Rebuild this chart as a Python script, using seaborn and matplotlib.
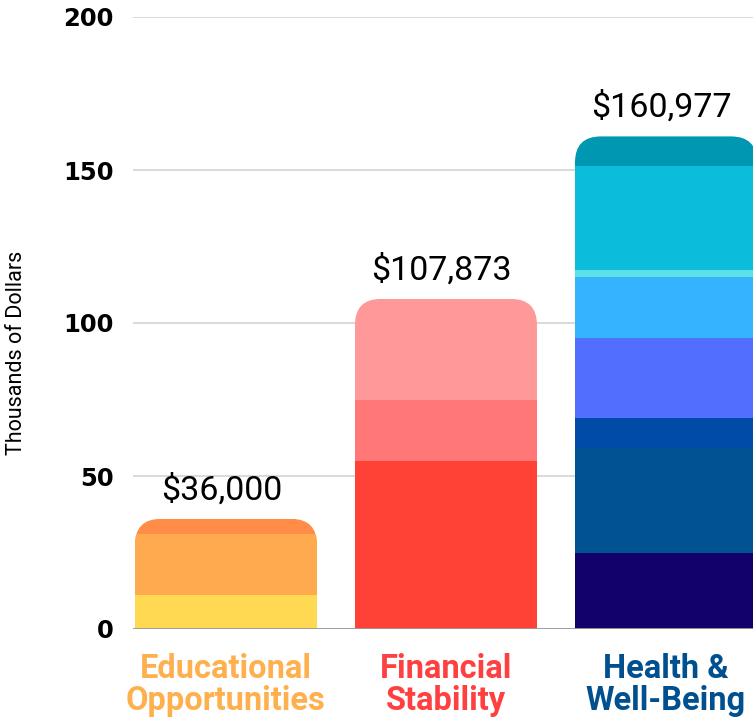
import matplotlib
matplotlib.use("Agg")
import matplotlib.pyplot as plt
from matplotlib.patches import FancyBboxPatch
import seaborn as sns
import pandas as pd

# ---- data (thousands of dollars) ----
categories = ["Educational Opportunities", "Financial Stability", "Health & Well-Being"]
tick_labels = ["Educational\nOpportunities", "Financial\nStability", "Health &\nWell-Being"]
edu_segments = [11, 20, 5]
fin_segments = [55, 20, 32.873]
health_segments = [25, 34, 10, 26, 20, 2.3, 34, 9.677]
edu_colors = ["#FFD952", "#FFAA4F", "#FF8C47"]
fin_colors = ["#FF4136", "#FF7777", "#FF9999"]
health_colors = ["#12006B", "#005293", "#004AA8", "#526EFF", "#36B3FF", "#5CE1E6", "#0BBDDA", "#0097B2"]
label_colors = ["#FFB04E", "#FF4040", "#00508F"]
yticks = [0, 50, 100, 150, 200]

segments = [edu_segments, fin_segments, health_segments]
seg_colors = [edu_colors, fin_colors, health_colors]

rows = []
palette = {}
for cat, segs, cols in zip(categories, segments, seg_colors):
    cum = 0
    for k, (s, c) in enumerate(zip(segs, cols)):
        cum += s
        sid = f"{cat}-{k}"
        rows.append({"category": cat, "seg": sid, "top": cum})
        palette[sid] = c
df = pd.DataFrame(rows)
hue_order = list(df.sort_values("top", ascending=False)["seg"])
totals = [sum(s) for s in segments]

W, H = 753, 720
fig = plt.figure(figsize=(W / 100, H / 100), dpi=100)
ax = fig.add_axes([133 / W, 91 / H, 643 / W, 612 / H])

bar_w = 182 / 220
sns.barplot(data=df, x="category", y="top", hue="seg", hue_order=hue_order,
            order=categories, palette=palette, dodge=False, width=bar_w,
            saturation=1, linewidth=0, legend=False, ax=ax, zorder=2)

ax.set_xlim(-0.4226, 2.5)
ax.set_ylim(0, 200)

# draw shorter (cumulative) bars on top
for p in ax.patches:
    p.set_zorder(2 + (250 - p.get_height()) / 1000)

# rounded tops via clip paths
px_x = 1 / 220
px_y = 200 / 612
asp = px_y / px_x
r = 26 * px_x
for i, tot in enumerate(totals):
    clip = FancyBboxPatch((i - bar_w / 2, -60), bar_w, tot + 60,
                          boxstyle=f"round,pad=0,rounding_size={r}",
                          mutation_aspect=asp, transform=ax.transData)
    for p in ax.patches:
        cx = p.get_x() + p.get_width() / 2
        if abs(cx - i) < 0.2:
            p.set_clip_path(clip)

# value labels
for i, tot in enumerate(totals):
    ax.annotate(f"${tot * 1000:,.0f}", (i, tot), xytext=(-3, 14),
                textcoords="offset points", ha="center", va="baseline",
                fontsize=24.5, family="Roboto", color="black", zorder=10)

for s in ax.spines.values():
    s.set_visible(False)
ax.set_axisbelow(True)
ax.yaxis.grid(True, color="#d3d3d3", lw=1.2)
ax.axhline(0, color="#9a9a9a", lw=1.3, zorder=6)

ax.set_yticks(yticks)
ax.set_yticklabels([str(t) for t in yticks], fontsize=17.5, fontweight="bold",
                   family="DejaVu Sans")
ax.tick_params(axis="y", length=0, pad=14)

ax.set_xticks(range(len(categories)))
ax.set_xticklabels(tick_labels, fontsize=23.5, fontweight="bold", family="Roboto",
                   linespacing=1.03)
for lbl, c in zip(ax.get_xticklabels(), label_colors):
    lbl.set_color(c)
ax.tick_params(axis="x", length=0, pad=17)
ax.set_xlabel("")

ax.set_ylabel("Thousands of Dollars", fontsize=15.5, family="Roboto")
ax.yaxis.set_label_coords(-0.165, 0.451)

fig.savefig("out.png", dpi=100)
